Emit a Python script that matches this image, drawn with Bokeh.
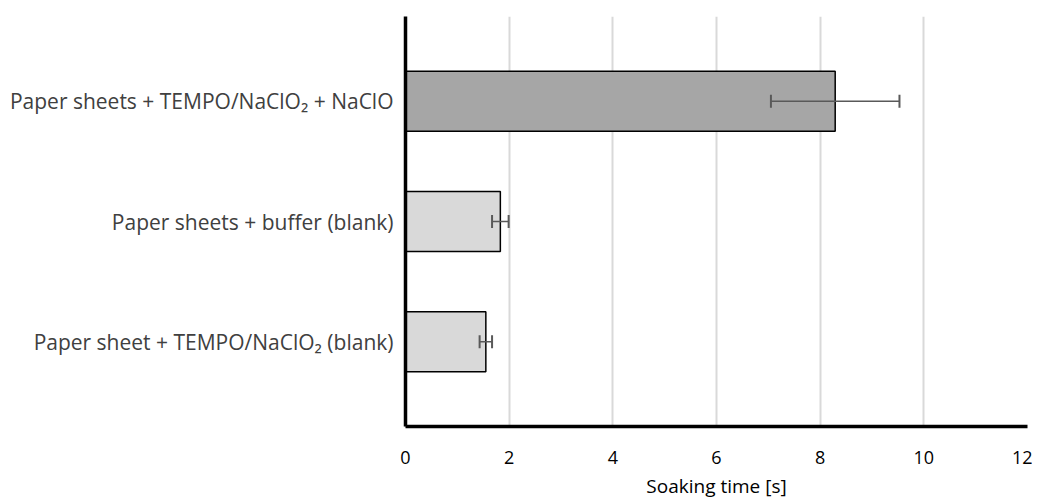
from bokeh.plotting import figure
from bokeh.models import ColumnDataSource, Range1d, FixedTicker, Whisker, TeeHead
from bokeh.embed import file_html
from bokeh.resources import INLINE

categories = [
    "Paper sheet + TEMPO/NaClO\u2082 (blank)",
    "Paper sheets + buffer (blank)",
    "Paper sheets + TEMPO/NaClO\u2082 + NaClO",
]
values = [1.55, 1.83, 8.29]
errors = [0.12, 0.16, 1.24]
fills = ["#d9d9d9", "#d9d9d9", "#a6a6a6"]
x_ticks = [0, 2, 4, 6, 8, 10, 12]

ypos = list(range(len(categories)))
src = ColumnDataSource(dict(
    y=ypos, v=values, fill=fills,
    lo=[v - e for v, e in zip(values, errors)],
    hi=[v + e for v, e in zip(values, errors)],
))

FONT = "Open Sans"

p = figure(width=1032, height=501, output_backend="svg", toolbar_location=None,
           x_range=Range1d(0, 12), y_range=Range1d(-0.705, 2.705),
           min_border_left=405, min_border_right=5, min_border_top=16, min_border_bottom=73)
p.outline_line_color = None
p.background_fill_color = "white"
p.border_fill_color = "white"

p.hbar(y="y", right="v", left=0, height=0.5, source=src, fill_color="fill",
       line_color="#000000", line_width=1.5)

wh = Whisker(base="y", lower="lo", upper="hi", source=src, dimension="width",
             line_color="#595959", line_width=1.5, level="overlay",
             upper_head=TeeHead(size=13, line_color="#595959", line_width=2),
             lower_head=TeeHead(size=13, line_color="#595959", line_width=2))
p.add_layout(wh)

# x axis
p.xaxis.ticker = FixedTicker(ticks=x_ticks)
p.xaxis.axis_label = "Soaking time [s]"
p.xaxis.axis_label_text_font = FONT
p.xaxis.axis_label_text_font_style = "normal"
p.xaxis.axis_label_text_font_size = "19px"
p.xaxis.axis_label_text_color = "#000000"
p.xaxis.axis_label_standoff = 6
p.xaxis.major_label_text_font = FONT
p.xaxis.major_label_text_font_size = "18px"
p.xaxis.major_label_text_color = "#000000"
p.xaxis.major_label_standoff = 24
p.xaxis.major_tick_out = 0
p.xaxis.major_tick_in = 0
p.xaxis.minor_tick_out = 0
p.xaxis.minor_tick_in = 0
p.xaxis.axis_line_color = "#000000"
p.xaxis.axis_line_width = 3.5

# y axis
p.yaxis.ticker = FixedTicker(ticks=ypos)
p.yaxis.major_label_overrides = {i: c for i, c in zip(ypos, categories)}
p.yaxis.major_label_text_font = FONT
p.yaxis.major_label_text_font_size = "21px"
p.yaxis.major_label_text_color = "#404040"
p.yaxis.major_label_standoff = 12
p.yaxis.major_tick_out = 0
p.yaxis.major_tick_in = 0
p.yaxis.minor_tick_out = 0
p.yaxis.minor_tick_in = 0
p.yaxis.axis_line_color = "#000000"
p.yaxis.axis_line_width = 3.5

p.xgrid.ticker = FixedTicker(ticks=x_ticks)
p.xgrid.grid_line_color = "#d9d9d9"
p.xgrid.grid_line_width = 2
p.ygrid.grid_line_color = None

open("out.html", "w").write(file_html(p, INLINE))
